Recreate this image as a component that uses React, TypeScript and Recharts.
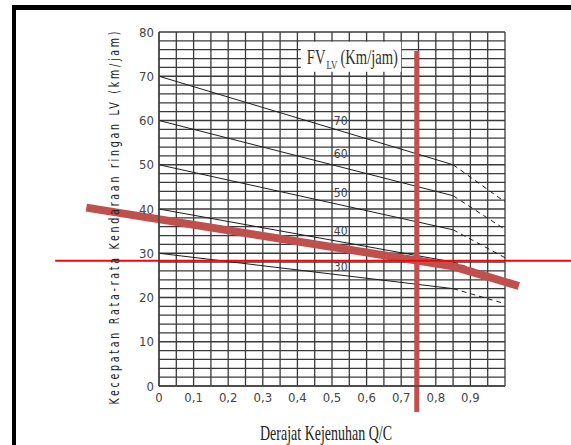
import React from "react";
import {
  LineChart,
  Line,
  XAxis,
  YAxis,
  CartesianGrid,
  ReferenceLine,
  ReferenceArea,
  ReferenceDot,
} from "recharts";

// speed (km/jam) vs degree of saturation Q/C, one curve per free-flow speed
const fv70 = [
  { ds: 0, v: 70 },
  { ds: 0.85, v: 50 },
  { ds: 1, v: 41.6 },
];
const fv60 = [
  { ds: 0, v: 60 },
  { ds: 0.85, v: 43 },
  { ds: 1, v: 35.4 },
];
const fv50 = [
  { ds: 0, v: 50 },
  { ds: 0.85, v: 35.3 },
  { ds: 1, v: 29 },
];
const fv40 = [
  { ds: 0, v: 40 },
  { ds: 0.85, v: 28 },
  { ds: 1, v: 24 },
];
const fv30 = [
  { ds: 0, v: 30 },
  { ds: 0.85, v: 22 },
  { ds: 1, v: 18.6 },
];
const fvCurves = [fv70, fv60, fv50, fv40, fv30];
const fvNames = ["70", "60", "50", "40", "30"];
const fvLabelDs = 0.525;
const fvLabelV = [59.9, 52.4, 43.7, 35.0, 27.0];

// the red construction lines drawn over the chart
const redCurve = [
  { ds: -0.21, v: 40.3 },
  { ds: 0.85, v: 27.05 },
  { ds: 1.04, v: 22.6 },
];
const redQC = 0.745;
const redQCSpan = [75.7, -5.9];
const redSpeed = 28.3;
const redSpeedSpan = [-0.3, 1.25];

const xTicks = [0, 0.1, 0.2, 0.3, 0.4, 0.5, 0.6, 0.7, 0.8, 0.9];
const yTicks = [0, 10, 20, 30, 40, 50, 60, 70, 80];
const gridX = Array.from({ length: 21 }, (_, i) => +(i * 0.05).toFixed(2));
const gridY = Array.from({ length: 41 }, (_, i) => i * 2);

const narrow = "'Liberation Sans Narrow', 'DejaVu Sans Condensed', sans-serif";
const serif = "'Liberation Serif', 'DejaVu Serif', serif";
const lineColor = "#1e1e1e";
const redDark = "#c0504d";

const XTitle = (props: any) => {
  const vb = props.viewBox || { x: 159, y: 386, width: 346, height: 30 };
  return (
    <text
      x={vb.x + vb.width / 2 - 6}
      y={vb.y + 54}
      textAnchor="middle"
      fontFamily={serif}
      fontSize={21}
      fill="#222"
      textLength={132}
      lengthAdjust="spacingAndGlyphs"
    >
      Derajat Kejenuhan Q/C
    </text>
  );
};

const YTitle = (props: any) => {
  const vb = props.viewBox || { x: 99, y: 32, width: 60, height: 354 };
  const cx = vb.x + 20;
  const cy = vb.y + vb.height / 2 + 9;
  return (
    <g transform={`translate(${cx}, ${cy}) rotate(-90) scale(1, 1.35)`}>
      <text
        x={0}
        y={0}
        textAnchor="middle"
        fontFamily={narrow}
        fontSize={10.5}
        fill="#222"
        textLength={373}
        lengthAdjust="spacing"
      >
        Kecepatan Rata-rata Kendaraan ringan LV (km/jam)
      </text>
    </g>
  );
};

const LegendTitle = (props: any) => {
  const vb = props.viewBox || { x: 300, y: 43 };
  return (
    <g
      fontFamily={serif}
      fill="#352f2a"
      transform={`translate(${vb.x + 6}, ${vb.y + 22}) scale(0.73, 1)`}
    >
      <text x={0} y={0} fontSize={20}>
        FV
      </text>
      <text x={27} y={5} fontSize={12}>
        LV
      </text>
      <text x={46} y={0} fontSize={20}>
        (Km/jam)
      </text>
    </g>
  );
};

const fmt = (v: number) => (v === 0 ? "0" : String(v).replace(".", ","));

const gridXCoords = ({ xAxis, offset }: any) =>
  gridX.map((v) =>
    xAxis && typeof xAxis.scale === "function"
      ? xAxis.scale(v)
      : offset.left + offset.width * v
  );
const gridYCoords = ({ yAxis, offset }: any) =>
  gridY.map((v) =>
    yAxis && typeof yAxis.scale === "function"
      ? yAxis.scale(v)
      : offset.top + offset.height * (1 - v / 80)
  );

export default function App() {
  return (
    <div
      style={{
        position: "fixed",
        left: 0,
        top: 0,
        width: 571,
        height: 445,
        overflow: "hidden",
        background: "#fff",
      }}
    >
      <div
        style={{
          position: "absolute",
          left: 12,
          top: 5,
          width: 600,
          height: 437,
          borderTop: "5px solid #000",
          borderLeft: "4px solid #000",
          borderBottom: "2px solid #000",
        }}
      />
      <div style={{ position: "absolute", left: 0, top: 0 }}>
        <LineChart
          width={571}
          height={445}
          margin={{ top: 32, right: 66, bottom: 29, left: 99 }}
        >
          <CartesianGrid
            stroke="#3a3a3a"
            strokeWidth={1.3}
            verticalCoordinatesGenerator={gridXCoords}
            horizontalCoordinatesGenerator={gridYCoords}
          />
          <XAxis
            type="number"
            dataKey="ds"
            domain={[0, 1]}
            ticks={xTicks}
            interval={0}
            tickFormatter={fmt}
            height={30}
            tickSize={0}
            tickMargin={7}
            axisLine={{ stroke: "#444", strokeWidth: 1.5 }}
            tick={{ fontSize: 13, fill: "#444", fontFamily: narrow }}
            label={<XTitle />}
          />
          <YAxis
            type="number"
            domain={[0, 80]}
            ticks={yTicks}
            interval={0}
            width={60}
            tickSize={0}
            tickMargin={5}
            axisLine={{ stroke: "#444", strokeWidth: 1.5 }}
            tick={{ fontSize: 13, fill: "#444", fontFamily: narrow }}
            label={<YTitle />}
          />
          <ReferenceArea
            x1={0.41}
            x2={0.7}
            y1={71}
            y2={77.8}
            fill="#fff"
            fillOpacity={1}
            stroke="none"
            label={<LegendTitle />}
          />
          {fvCurves.map((c, i) => (
            <Line
              key={`s${i}`}
              data={c.slice(0, 2)}
              dataKey="v"
              stroke={lineColor}
              strokeWidth={1}
              dot={false}
              activeDot={false}
              isAnimationActive={false}
            />
          ))}
          {fvCurves.map((c, i) => (
            <Line
              key={`d${i}`}
              data={c.slice(1)}
              dataKey="v"
              stroke={lineColor}
              strokeWidth={1}
              strokeDasharray="5 4"
              dot={false}
              activeDot={false}
              isAnimationActive={false}
            />
          ))}
          {fvNames.map((n, i) => (
            <ReferenceDot
              key={`l${n}`}
              x={fvLabelDs}
              y={fvLabelV[i]}
              r={0}
              ifOverflow="visible"
              shape={(p: any) => (
                <text
                  x={p.cx}
                  y={p.cy}
                  textAnchor="middle"
                  dominantBaseline="central"
                  fontFamily={narrow}
                  fontSize={12}
                  fill="#3a4052"
                >
                  {n}
                </text>
              )}
            />
          ))}
          {redCurve.slice(1).map((p, i) => (
            <ReferenceLine
              key={`r${i}`}
              segment={[
                { x: redCurve[i].ds, y: redCurve[i].v },
                { x: p.ds, y: p.v },
              ]}
              stroke={redDark}
              strokeWidth={8}
              ifOverflow="visible"
            />
          ))}
          <ReferenceLine
            segment={[
              { x: redQC, y: redQCSpan[0] },
              { x: redQC, y: redQCSpan[1] },
            ]}
            stroke={redDark}
            strokeWidth={5}
            ifOverflow="visible"
          />
          <ReferenceLine
            segment={[
              { x: redSpeedSpan[0], y: redSpeed },
              { x: redSpeedSpan[1], y: redSpeed },
            ]}
            stroke="#ff0000"
            strokeWidth={2}
            ifOverflow="visible"
          />
        </LineChart>
      </div>
    </div>
  );
}
